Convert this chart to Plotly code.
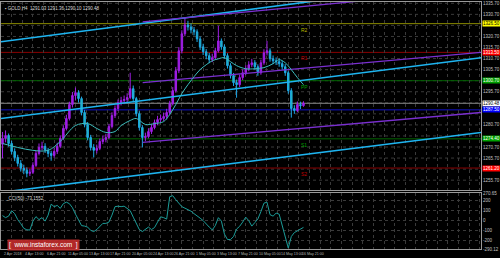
import plotly.graph_objects as go

# ---------------- data ----------------
opens = [
1272.0,1274.6,1275.9,1272.3,1268.7,1266.0,1263.3,1261.1,1260.2,1258.8,
1259.3,1262.4,1267.8,1270.5,1271.0,1269.2,1267.8,1266.9,1268.7,1271.0,
1274.6,1279.1,1283.6,1289.9,1294.0,1295.3,1292.6,1286.3,1280.9,1275.0,
1270.5,1269.2,1270.1,1273.2,1274.1,1275.0,1280.0,1284.9,1288.1,1290.8,
1291.7,1292.2,1293.1,1297.1,1292.6,1285.8,1279.5,1275.0,1275.5,1277.7,
1279.5,1281.8,1283.1,1283.6,1284.5,1286.3,1290.3,1296.2,1305.2,1314.2,
1321.9,1325.9,1325.0,1323.7,1322.8,1319.6,1316.0,1313.8,1312.0,1310.2,
1311.1,1314.2,1318.7,1316.0,1312.0,1307.5,1303.0,1299.8,1298.9,1302.1,
1304.3,1306.1,1307.9,1308.8,1307.0,1304.3,1308.8,1313.3,1314.2,1310.6,
1309.7,1309.3,1308.4,1307.0,1304.3,1296.2,1288.1,1287.2,1289.9,1289.4]
highs = [
1277.5,1278.2,1276.8,1273.5,1270.1,1267.2,1264.8,1262.7,1261.5,1260.9,
1263.8,1269.0,1272.3,1273.1,1272.4,1270.3,1269.0,1270.2,1272.6,1276.0,
1280.5,1285.3,1291.2,1295.6,1297.6,1296.4,1293.5,1287.5,1282.0,1276.2,
1272.0,1271.8,1274.5,1275.9,1276.7,1281.2,1286.4,1289.5,1292.2,1293.4,
1294.0,1295.0,1304.3,1298.5,1293.4,1286.9,1280.6,1277.2,1279.2,1281.0,
1283.1,1284.8,1285.4,1286.3,1288.0,1291.6,1297.8,1306.9,1315.9,1323.5,
1329.1,1327.8,1326.6,1325.0,1323.9,1320.7,1317.4,1315.0,1313.3,1312.9,
1315.6,1325.5,1319.8,1317.1,1313.1,1308.6,1304.2,1301.2,1303.5,1305.8,
1307.7,1309.5,1310.6,1310.0,1308.1,1310.2,1314.9,1318.7,1315.3,1312.1,
1311.2,1310.8,1309.7,1308.2,1305.1,1297.3,1289.6,1291.3,1291.2,1291.4]
lows = [
1265.6,1272.8,1270.9,1267.4,1264.3,1261.9,1259.6,1258.4,1257.0,1257.6,
1258.5,1261.7,1266.9,1269.2,1268.0,1266.1,1264.5,1265.8,1267.5,1270.2,
1273.8,1278.2,1282.7,1288.6,1292.0,1290.8,1285.0,1279.6,1273.7,1269.1,
1266.0,1267.8,1269.3,1272.0,1272.8,1274.2,1279.1,1283.8,1287.0,1289.5,
1290.1,1291.0,1292.3,1291.4,1284.5,1278.2,1270.5,1273.3,1274.6,1276.6,
1278.7,1280.6,1281.9,1282.5,1283.2,1285.4,1289.5,1295.3,1304.1,1313.0,
1320.8,1323.4,1322.1,1321.2,1318.2,1314.6,1312.3,1310.4,1308.6,1309.1,
1310.2,1313.4,1314.7,1310.6,1306.2,1301.7,1298.3,1293.0,1297.8,1301.0,
1303.2,1305.0,1306.8,1305.7,1302.9,1303.4,1307.9,1312.1,1309.3,1308.2,
1307.8,1307.0,1305.6,1302.9,1294.8,1284.0,1285.7,1286.4,1287.9,1288.9]
closes = [
1274.6,1275.9,1272.3,1268.7,1266.0,1263.3,1261.1,1260.2,1258.8,1259.3,
1262.4,1267.8,1270.5,1271.0,1269.2,1267.8,1266.9,1268.7,1271.0,1274.6,
1279.1,1283.6,1289.9,1294.0,1295.3,1292.6,1286.3,1280.9,1275.0,1270.5,
1269.2,1270.1,1273.2,1274.1,1275.0,1280.0,1284.9,1288.1,1290.8,1291.7,
1292.2,1293.1,1297.1,1292.6,1285.8,1279.5,1275.0,1275.5,1277.7,1279.5,
1281.8,1283.1,1283.6,1284.5,1286.3,1290.3,1296.2,1305.2,1314.2,1321.9,
1325.9,1325.0,1323.7,1322.8,1319.6,1316.0,1313.8,1312.0,1310.2,1311.1,
1314.2,1318.7,1316.0,1312.0,1307.5,1303.0,1299.8,1298.9,1302.1,1304.3,
1306.1,1307.9,1308.8,1307.0,1304.3,1308.8,1313.3,1314.2,1310.6,1309.7,
1309.3,1308.4,1307.0,1304.3,1296.2,1288.1,1287.2,1289.9,1289.4,1290.5]
bars = list(range(len(closes)))

ma_bars = [0,5,10,15,19,24,28,31,34,37,39,42,44,47,50,53,55,57,59,61,63,65,67,69,71,73,75,77,80,83,86,89,91,93,95,97,99]
ma_vals = [1272.3,1270.5,1269.2,1269.2,1273.2,1280.4,1281.3,1279.1,1277.3,1277.7,1280.4,1282.7,
           1283.6,1280.9,1281.3,1282.2,1285.4,1289.9,1294.9,1298.9,1302.5,1305.7,1307.9,1309.7,
           1310.6,1311.1,1309.3,1307.5,1306.1,1306.1,1306.6,1308.4,1310.2,1308.8,1305.7,1302.1,1298.9]

cci = [45,25,40,95,65,5,-35,-83,-97,-100,
       -10,35,5,25,-10,50,160,135,148,118,
       165,180,165,125,60,0,-55,-60,-70,-103,
       -115,-95,-67,-33,-33,-20,50,135,140,135,
       140,115,95,30,-30,-95,-115,-95,-70,-95,
       -75,-20,33,25,10,235,245,205,170,135,
       120,105,90,65,45,20,-5,-40,-70,-98,
       -55,25,-10,-140,-195,-195,-165,-90,-62,-20,
       30,-5,-60,-25,12,85,170,180,55,40,
       70,60,-45,-175,-280,-165,-125,-108,-88,-73]

# trend lines: (bar_start, bar_end, price_start, price_end)
cyan_lines = [(-0.5, 157.4, 1318.3, 1346.5),
              (-0.5, 157.4, 1283.6, 1311.1),
              (-0.5, 157.4, 1250.2, 1277.3)]
purple_lines = [(46.1, 157.4, 1327.3, 1342.0),
                (46.1, 157.4, 1299.8, 1313.5),
                (46.1, 157.4, 1272.8, 1286.3)]

pivot_names = ["R2", "R1", "PP", "S1", "S2"]
pivot_levels = [1326.5, 1313.5, 1300.7, 1274.4, 1261.2]
pivot_line_colors = ["#8c8c00", "#8b0000", "#006400", "#006400", "#8b0000"]
pivot_text_colors = ["#b8b800", "#c00000", "#00a000", "#00a000", "#c00000"]
pivot_box_colors = ["#ffff00", "#ff0000", "#00a000", "#00a000", "#ff0000"]
bid_price = 1290.48
blue_level = 1287.5

# grid labels (those hidden under the coloured price boxes are left out)
price_ticks = [1335.70,1330.70,1320.70,1315.70,1310.70,1305.70,1295.70,
               1280.70,1270.70,1265.70,1255.70]
price_tick_text = ["%.2f" % v for v in price_ticks]
price_grid = [1335.70,1330.70,1325.70,1320.70,1315.70,1310.70,1305.70,1300.70,1295.70,
              1290.70,1285.70,1280.70,1275.70,1270.70,1265.70,1260.70,1255.70]
cci_ticks = [270, 200, 100, 0, -100, -200, -290]
cci_tick_text = ["270.65", "200", "100", "0", "-100", "-200", "-290.12"]

date_labels = ["2 Apr 2018", "4 Apr 13:00", "6 Apr 21:00", "11 Apr 05:00", "13 Apr 13:00",
               "17 Apr 21:00", "20 Apr 05:00", "24 Apr 13:00", "26 Apr 21:00", "1 May 05:00",
               "3 May 13:00", "7 May 21:00", "10 May 05:00", "14 May 13:00", "16 May 21:00"]
date_label_bars = [7 * k - 0.5 for k in range(len(date_labels))]

title_text = "\u25aa GOLD,H4  1291.03 1291.36 1290.10 1290.48"
cci_title = "_CCI(50) -73.1552"

# ---------------- figure ----------------
FONT = "Liberation Sans"
GRID = "#3a3a3a"
BORDER = "#9a9a9a"
XR = [-0.5, 157.4]
YR = [1251.15, 1336.29]

fig = go.Figure()

for (b0, b1, p0, p1) in cyan_lines:
    fig.add_trace(go.Scatter(x=[b0, b1], y=[p0, p1], mode="lines",
                             line=dict(color="#1eb4f0", width=1.6),
                             showlegend=False, hoverinfo="skip"))
for (b0, b1, p0, p1) in purple_lines:
    fig.add_trace(go.Scatter(x=[b0, b1], y=[p0, p1], mode="lines",
                             line=dict(color="#7a2fd0", width=1.3),
                             showlegend=False, hoverinfo="skip"))

fig.add_trace(go.Candlestick(
    x=bars, open=opens, high=highs, low=lows, close=closes,
    increasing=dict(line=dict(color="#a01ee6", width=1), fillcolor="#a01ee6"),
    decreasing=dict(line=dict(color="#1ea8e8", width=1), fillcolor="#26c0a8"),
    whiskerwidth=0, showlegend=False, hoverinfo="skip"))

fig.add_trace(go.Scatter(x=ma_bars, y=ma_vals, mode="lines", line_shape="spline",
                         line=dict(color="#3cbcbc", width=1),
                         showlegend=False, hoverinfo="skip"))

fig.add_trace(go.Scatter(x=bars, y=cci, mode="lines", xaxis="x2", yaxis="y2",
                         line=dict(color="#1c9c98", width=1),
                         showlegend=False, hoverinfo="skip"))

shapes = []
# horizontal dotted grid of the price panel
for g in price_grid:
    shapes.append(dict(type="line", xref="paper", yref="y", x0=0, x1=1, y0=g, y1=g,
                       line=dict(color=GRID, width=1, dash="dot"), layer="below"))
for lvl, col in zip(pivot_levels, pivot_line_colors):
    shapes.append(dict(type="line", xref="paper", yref="y", x0=0, x1=1, y0=lvl, y1=lvl,
                       line=dict(color=col, width=1), layer="below"))
shapes.append(dict(type="line", xref="paper", yref="y", x0=0, x1=1, y0=bid_price, y1=bid_price,
                   line=dict(color="#8a8a8a", width=1), layer="below"))
shapes.append(dict(type="line", xref="paper", yref="y", x0=0, x1=1, y0=blue_level, y1=blue_level,
                   line=dict(color="#1010c8", width=1), layer="below"))

annotations = []
for name, lvl, tc in zip(pivot_names, pivot_levels, pivot_text_colors):
    annotations.append(dict(x=97.5, y=lvl, xref="x", yref="y", text=name, showarrow=False,
                            xanchor="left", yanchor="top", yshift=-1,
                            font=dict(family=FONT, size=5, color=tc)))

box_items = list(zip(pivot_levels, pivot_box_colors)) + [(bid_price, "#ffffff"), (blue_level, "#0000ff")]
for lvl, bc in box_items:
    txtcol = "#000000" if bc in ("#ffff00", "#ffffff") else "#ffffff"
    annotations.append(dict(x=1, y=lvl, xref="paper", yref="y", text="%.2f" % lvl,
                            showarrow=False, xanchor="left", yanchor="middle", xshift=1,
                            bgcolor=bc, borderpad=0,
                            font=dict(family=FONT, size=4.5, color=txtcol)))

for lab, b in zip(date_labels, date_label_bars):
    annotations.append(dict(x=b, y=0, xref="x2", yref="paper", text=lab, showarrow=False,
                            xanchor="left", yanchor="top", xshift=1, yshift=-1,
                            font=dict(family=FONT, size=3.6, color="#b4b4b4")))

annotations.append(dict(x=0, y=1, xref="paper", yref="paper", text=title_text, showarrow=False,
                        xanchor="left", yanchor="top", xshift=2, yshift=-2,
                        font=dict(family=FONT, size=4.5, color="#d8d8d8")))
annotations.append(dict(x=0, y=0.2258, xref="paper", yref="paper", text=cci_title, showarrow=False,
                        xanchor="left", yanchor="top", xshift=2, yshift=-1,
                        font=dict(family=FONT, size=4.5, color="#d8d8d8")))
annotations.append(dict(x=0.0124, y=0.016, xref="paper", yref="paper",
                        text="[  www.instaforex.com  ]", showarrow=False,
                        xanchor="left", yanchor="middle", bgcolor="rgba(196,44,44,0.9)",
                        borderpad=1, font=dict(family=FONT, size=6.5, color="#ffffff")))

axis_common = dict(gridcolor=GRID, griddash="dot", gridwidth=1,
                   zeroline=False, showline=True, linecolor=BORDER, linewidth=1, mirror=True)

fig.update_layout(
    width=500, height=258,
    margin=dict(l=0, r=15, t=1, b=9),
    paper_bgcolor="#000000", plot_bgcolor="#000000",
    shapes=shapes, annotations=annotations,
    xaxis=dict(domain=[0, 1], range=XR, anchor="y", tick0=-0.5, dtick=3.5, showgrid=True,
               showticklabels=False, ticks="", rangeslider=dict(visible=False), **axis_common),
    yaxis=dict(domain=[0.2379, 1], range=YR, side="right", anchor="x", showgrid=False,
               tickvals=price_ticks, ticktext=price_tick_text, ticks="",
               tickfont=dict(family=FONT, size=4.5, color="#c0c0c0"), **axis_common),
    xaxis2=dict(domain=[0, 1], range=XR, anchor="y2", tick0=-0.5, dtick=3.5, showgrid=True,
                showticklabels=False, ticks="", **axis_common),
    yaxis2=dict(domain=[0, 0.2258], range=[-290, 270], side="right", anchor="x2", showgrid=True,
                tickvals=cci_ticks, ticktext=cci_tick_text, ticks="",
                tickfont=dict(family=FONT, size=4.5, color="#c0c0c0"), **axis_common),
    font=dict(family=FONT, size=5, color="#c0c0c0"),
)

fig.write_html("out.html")
